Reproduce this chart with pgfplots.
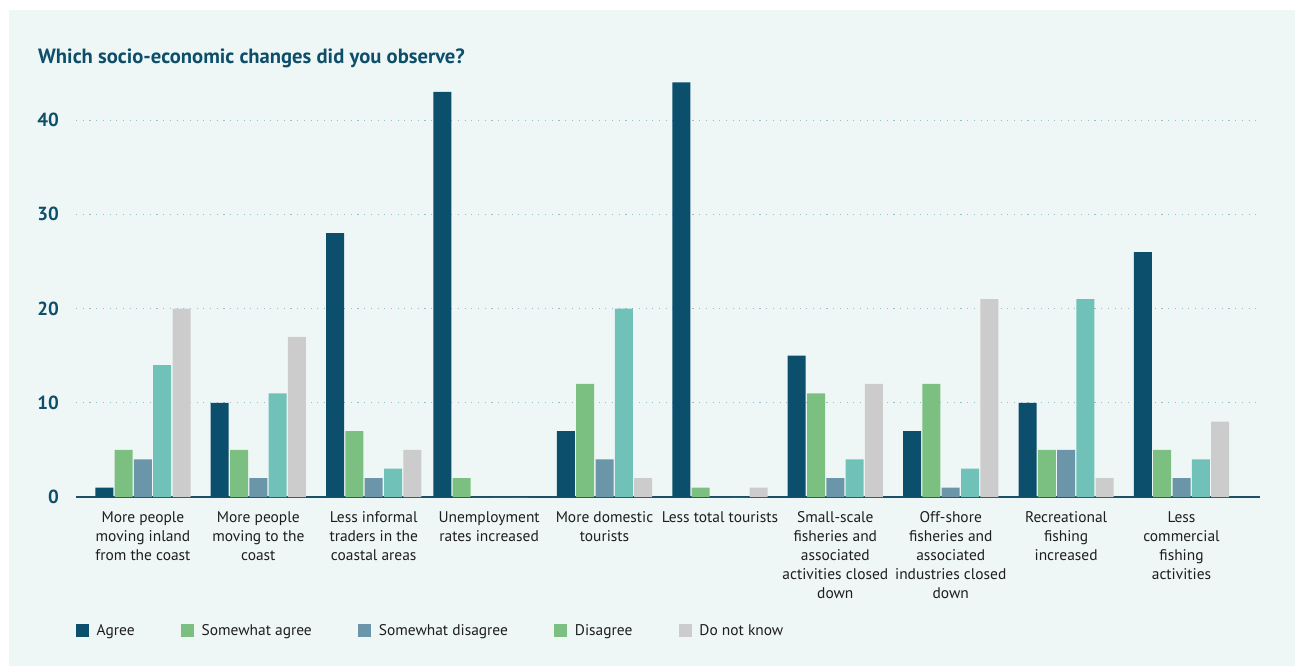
\documentclass[border=0pt]{standalone}
\usepackage{fontspec}
\setmainfont{PT Sans}
\usepackage{pgfplots}
\pgfplotsset{compat=1.18}
\definecolor{cA}{RGB}{12,79,108}
\definecolor{cSA}{RGB}{123,192,128}
\definecolor{cSD}{RGB}{107,149,168}
\definecolor{cD}{RGB}{112,194,185}
\definecolor{cDK}{RGB}{204,204,204}
\definecolor{bgc}{RGB}{239,247,246}
\definecolor{titlec}{RGB}{13,79,107}
\definecolor{gridc}{RGB}{150,190,205}
\definecolor{axc}{RGB}{28,80,105}
\definecolor{labc}{RGB}{30,30,30}
\begin{document}
\begin{tikzpicture}
\useasboundingbox (0,0) rectangle (1295bp,-666bp);
\fill[white] (0,0) rectangle (1295bp,-666bp);
\fill[bgc] (9bp,-10bp) rectangle (1295bp,-666bp);
\node[anchor=base west, inner sep=0pt, font=\fontsize{20.7}{24}\selectfont\bfseries, text=titlec] at (38bp,-63bp) {Which socio-economic changes did you observe?};
\begin{axis}[
  at={(76bp,-497bp)}, anchor=south west,
  scale only axis, width=1184bp, height=424bp,
  xmin=-0.58, xmax=9.68, ymin=0, ymax=45,
  axis x line*=bottom, axis y line*=left,
  x axis line style={-, line width=2bp, draw=axc},
  y axis line style={draw=none},
  major tick length=0pt,
  xtick={0,1,2,3,4,5,6,7,8,9},
  xticklabels={
    {More people\\moving inland\\from the coast},
    {More people\\moving to the\\coast},
    {Less informal\\traders in the\\coastal areas},
    {Unemployment\\rates increased},
    {More domestic\\tourists},
    {Less total tourists},
    {Small-scale\\fisheries and\\associated\\activities closed\\down},
    {Off-shore\\fisheries and\\associated\\industries closed\\down},
    {Recreational\\fishing\\increased},
    {Less\\commercial\\fishing\\activities}},
  xticklabel style={align=center, anchor=north, inner sep=0pt, yshift=-14.5bp,
    font=\fontsize{15.5}{19}\selectfont, text=labc},
  ytick={0,10,20,30,40},
  yticklabel style={anchor=east, inner sep=0pt, xshift=-17bp,
    font=\fontsize{19}{22}\selectfont\bfseries, text=titlec},
  /pgf/number format/assume math mode=true,
  ymajorgrids,
  major grid style={draw=gridc, line width=1.1bp, dash pattern=on 1.1bp off 5.6bp},
  bar width=18bp,
  legend columns=5,
  legend style={at={(0,-0.316)}, anchor=west, draw=none, fill=none,
    inner sep=0pt, font=\fontsize{15.5}{19}\selectfont, text=labc,
    nodes={inner sep=0pt},
    /tikz/every odd column/.append style={column sep=7.5bp},
    /tikz/every even column/.append style={column sep=46.5bp}},
  legend cell align=left,
  legend image code/.code={\fill[#1] (0bp,-6.5bp) rectangle (13bp,6.5bp);},
]
\addlegendimage{fill=cA, draw=none}
\addlegendimage{fill=cSA, draw=none}
\addlegendimage{fill=cSD, draw=none}
\addlegendimage{fill=cSA, draw=none}
\addlegendimage{fill=cDK, draw=none}
\legend{Agree, Somewhat agree, Somewhat disagree, Disagree, Do not know}

\addplot[ybar, bar shift=-38.6bp, fill=cA, draw=none] coordinates {
 (0,1) (1,10) (2,28) (2.93,43) (4,7) (5,44) (6,15) (7,7) (8,10) (9,26)};
\addplot[ybar, bar shift=-19.3bp, fill=cSA, draw=none] coordinates {
 (0,5) (1,5) (2,7) (2.93,2) (4,12) (5,1) (6,11) (7,12) (8,5) (9,5)};
\addplot[ybar, bar shift=0bp, fill=cSD, draw=none] coordinates {
 (0,4) (1,2) (2,2) (2.93,0) (4,4) (5,0) (6,2) (7,1) (8,5) (9,2)};
\addplot[ybar, bar shift=19.3bp, fill=cD, draw=none] coordinates {
 (0,14) (1,11) (2,3) (2.93,0) (4,20) (5,0) (6,4) (7,3) (8,21) (9,4)};
\addplot[ybar, bar shift=38.6bp, fill=cDK, draw=none] coordinates {
 (0,20) (1,17) (2,5) (2.93,0) (4,2) (5,1) (6,12) (7,21) (8,2) (9,8)};
\end{axis}
\end{tikzpicture}
\end{document}
